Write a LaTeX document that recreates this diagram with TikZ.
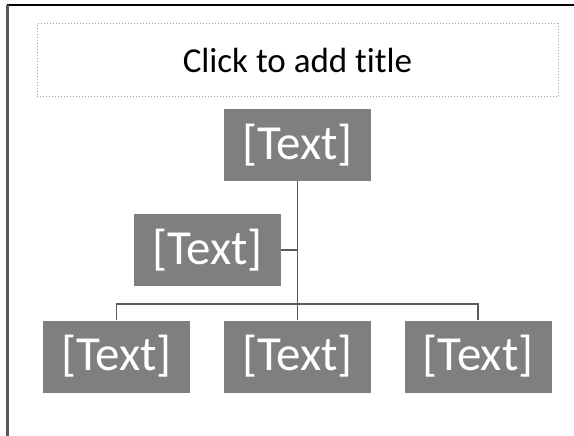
\documentclass[tikz,border=0pt]{standalone}
\usepackage{fontspec}
\setmainfont{Carlito}[Ligatures={NoCommon}]
\definecolor{boxgray}{RGB}{127,127,127}
\definecolor{linegray}{RGB}{90,90,90}
\definecolor{dotgray}{RGB}{160,160,160}
\begin{document}
\begin{tikzpicture}[x=1pt,y=1pt,
  tbox/.style={fill=boxgray, text=white, minimum width=147pt, minimum height=72pt,
    inner sep=0pt, font=\fontsize{49}{50}\selectfont},
  conn/.style={draw=linegray, line width=1.6pt},
  titlebox/.style={draw=dotgray, dotted, line width=1pt, minimum width=521pt,
    minimum height=73pt, inner sep=0pt, font=\fontsize{35}{40}\selectfont}]
\useasboundingbox (0,0) rectangle (574,-436);
% frame lines
\draw[black, line width=2pt] (7,-5) -- (574,-5);
\draw[linegray, line width=2.5pt] (7.5,-5) -- (7.5,-436);
% title
\node[titlebox] (title) at (297.5,-60.5) {Click to add title};
% boxes
\node[tbox] (top) at (297.5,-145) {[Text]};
\node[tbox] (ml) at (207.5,-250) {[Text]};
\node[tbox] (bl) at (116.5,-356.5) {[Text]};
\node[tbox] (bm) at (297.5,-356.5) {[Text]};
\node[tbox] (br) at (478,-356.5) {[Text]};
\coordinate (bus) at (297.5,-304);
% connectors
\draw[conn] (top.south) -- (bm.north);
\draw[conn] (ml.east) -- (ml.east -| top.south);
\draw[conn] (bl.north) |- (bus) -| (br.north);
\end{tikzpicture}
\end{document}
